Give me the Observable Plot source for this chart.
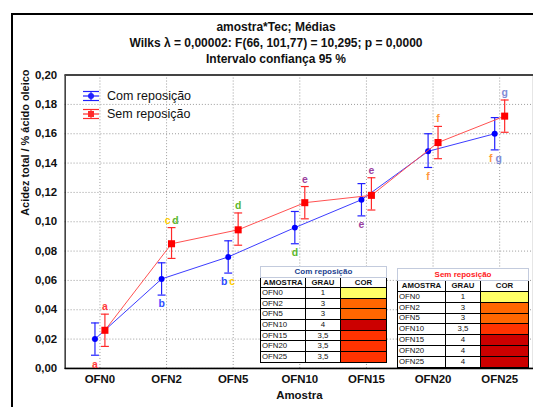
<!DOCTYPE html>
<html><head><meta charset="utf-8">
<script src="https://cdn.jsdelivr.net/npm/d3@7"></script>
<script src="https://cdn.jsdelivr.net/npm/@observablehq/plot@0.6"></script>
<style>
html,body{margin:0;padding:0;background:#fff;overflow:hidden;width:533px;height:407px;}
#wrap{position:relative;width:533px;height:407px;overflow:hidden;font-family:"Liberation Sans",Arial,sans-serif;color:#111;}
#frame{position:absolute;left:11px;top:13px;width:600px;height:500px;border:2px solid #000;}
#title{position:absolute;left:0;top:19px;width:552px;text-align:center;font-weight:bold;font-size:12px;line-height:16px;color:#111;}
#chart{position:absolute;left:0;top:0;}
#legend{position:absolute;left:82px;top:87px;font-size:12.5px;color:#111;}
#legend .li{display:flex;align-items:center;height:18px;}
#legend svg{margin-right:7px;}
.tbl{position:absolute;border-collapse:collapse;table-layout:fixed;background:#fff;font-family:"Liberation Sans",Arial,sans-serif;font-size:7.8px;color:#111;}
.tbl td{border:1.5px solid #000;padding:0 1px;line-height:8px;overflow:hidden;white-space:nowrap;}
.tbl td.c{text-align:center;}
.tbl tr.ttl td{border:1px solid #c3cbdd;font-weight:bold;font-size:8px;text-align:center;}
.tbl tr.hd td{font-weight:bold;text-align:center;}
</style></head>
<body>
<div id="wrap">
  <div id="frame"></div>
  <div id="title">amostra*Tec; Médias<br>Wilks λ = 0,00002: F(66, 101,77) = 10,295; p = 0,0000<br>Intervalo confiança 95 %</div>
  <div id="chart"></div>
  <div id="legend"></div>
</div>
<script>
// ---- data ----
const cats = ["OFN0","OFN2","OFN5","OFN10","OFN15","OFN20","OFN25"];
const seriesNames = ["Com reposição","Sem reposição"];
const comMean = [0.020, 0.061, 0.076, 0.096, 0.115, 0.148, 0.160];
const comLow  = [0.009, 0.050, 0.065, 0.085, 0.104, 0.137, 0.149];
const comHigh = [0.031, 0.072, 0.087, 0.107, 0.126, 0.160, 0.171];
const semMean = [0.026, 0.085, 0.0945, 0.113, 0.118, 0.154, 0.172];
const semLow  = [0.015, 0.075, 0.084, 0.102, 0.108, 0.143, 0.161];
const semHigh = [0.037, 0.096, 0.106, 0.124, 0.130, 0.165, 0.183];
const yTicks = [0, 0.02, 0.04, 0.06, 0.08, 0.10, 0.12, 0.14, 0.16, 0.18, 0.20];

// significance letters: sem -> above red bar, com -> below blue bar
const annCat  = ["OFN0","OFN0","OFN2","OFN2","OFN5","OFN5","OFN10","OFN10","OFN15","OFN15","OFN20","OFN20","OFN25","OFN25"];
const annSide = ["sem","com","sem","com","sem","com","sem","com","sem","com","sem","com","sem","com"];
const annText = ["a","a","cd","b","d","bc","e","d","e","e","f","f","g","fg"];
const letterColors = {a:"#ff3b3b", b:"#2d4cff", c:"#ffcc00", d:"#5cb82e", e:"#9a3fa0", f:"#ff9a3c", g:"#7f8cd6"};

// tables
const comGrau = ["1","3","3","4","3,5","3,5","3,5"];
const semGrau = ["1","3","3","3,5","4","4","4"];
const grauColor = {"1":"#ffff66","3":"#ff6600","3,5":"#ff3300","4":"#cc0000"};

// ---- styling ----
const blue = "#2020ff", red = "#ff2a2a";
const blueLine = "#3a3aff", redLine = "#ff5050";

const com = cats.map((c,i)=>({cat:c, m:comMean[i], lo:comLow[i], hi:comHigh[i]}));
const sem = cats.map((c,i)=>({cat:c, m:semMean[i], lo:semLow[i], hi:semHigh[i]}));

const cap = {draw(ctx){ ctx.moveTo(-4,0); ctx.lineTo(4,0); }};

const letterMarks = [];
annCat.forEach((c,i)=>{
  const side = annSide[i];
  const src = side === "sem" ? sem : com;
  const row = src[cats.indexOf(c)];
  const chars = annText[i].split("");
  const base = side === "sem" ? 5 : -5;
  chars.forEach((ch,j)=>{
    const off = base + (j - (chars.length-1)/2) * 8;
    letterMarks.push(Plot.text([row], {
      x:"cat", y: side === "sem" ? "hi" : "lo", text: () => ch,
      fill: letterColors[ch], fontSize: 10.5, fontWeight: "bold", dx: off,
      lineAnchor: side === "sem" ? "bottom" : "top", dy: side === "sem" ? -4 : 5
    }));
  });
});

const font = "Liberation Sans, Arial, sans-serif";
const chart = Plot.plot({
  width: 536, height: 407,
  marginTop: 75, marginBottom: 37, marginLeft: 65, marginRight: 0,
  style: {fontFamily: font, background: "transparent", color: "#111", overflow: "visible"},
  x: {type: "point", domain: cats, padding: 0.5, label: null},
  y: {domain: [0, 0.2], label: null},
  marks: [
    Plot.gridY(yTicks, {stroke: "#9a9a9a", strokeOpacity: 1, strokeDasharray: "1,2"}),
    Plot.gridX(cats, {stroke: "#9a9a9a", strokeOpacity: 1, strokeDasharray: "1,2"}),
    Plot.axisY(yTicks, {tickSize: 0, tickPadding: 8, fontSize: 11.5, fontWeight: "bold", label: null,
      tickFormat: d => d.toFixed(2).replace(".", ",")}),
    Plot.axisX(cats, {tickSize: 0, tickPadding: 6, fontSize: 11.5, fontWeight: "bold", label: null}),
    Plot.frame({stroke: "#000", strokeWidth: 1.2}),
    Plot.ruleY([0.2], {stroke: "#444", strokeWidth: 2}),
    Plot.ruleY([0], {stroke: "#000", strokeWidth: 1.5}),
    // blue series
    Plot.line(com, {x: "cat", y: "m", stroke: blueLine, strokeWidth: 1, dx: -5}),
    Plot.ruleX(com, {x: "cat", y1: "lo", y2: "hi", stroke: blue, strokeWidth: 1.2, dx: -5}),
    Plot.dot(com, {x: "cat", y: "lo", symbol: cap, stroke: blue, strokeWidth: 1.2, r: 4, dx: -5}),
    Plot.dot(com, {x: "cat", y: "hi", symbol: cap, stroke: blue, strokeWidth: 1.2, r: 4, dx: -5}),
    Plot.dot(com, {x: "cat", y: "m", fill: "#0000ff", r: 3, dx: -5}),
    // red series
    Plot.line(sem, {x: "cat", y: "m", stroke: redLine, strokeWidth: 1, dx: 5}),
    Plot.ruleX(sem, {x: "cat", y1: "lo", y2: "hi", stroke: red, strokeWidth: 1.2, dx: 5}),
    Plot.dot(sem, {x: "cat", y: "lo", symbol: cap, stroke: red, strokeWidth: 1.2, r: 4, dx: 5}),
    Plot.dot(sem, {x: "cat", y: "hi", symbol: cap, stroke: red, strokeWidth: 1.2, r: 4, dx: 5}),
    Plot.dot(sem, {x: "cat", y: "m", fill: "#ff0000", symbol: "square", r: 4, dx: 5}),
    ...letterMarks,
    Plot.text(["Acidez total / % ácido oleico"], {frameAnchor: "left", rotate: -90, dx: -40, dy: -6,
      fontWeight: "bold", fontSize: 11, fill: "#111"}),
    Plot.text(["Amostra"], {frameAnchor: "bottom", dy: 31, fontWeight: "bold", fontSize: 11.5, fill: "#111"})
  ]
});
document.getElementById("chart").appendChild(chart);

// legend
const leg = document.getElementById("legend");
[[seriesNames[0], blue, "circle"], [seriesNames[1], red, "square"]].forEach(([name, col, shape]) => {
  const marker = shape === "circle"
    ? `<circle cx="9" cy="7" r="3" fill="${col}"/>`
    : `<rect x="6" y="4" width="6" height="6" fill="${col}"/>`;
  leg.insertAdjacentHTML("beforeend",
    `<div class="li"><svg width="18" height="14">
      <line x1="1" x2="17" y1="2.5" y2="2.5" stroke="${col}" stroke-width="1.2"/>
      <line x1="1" x2="17" y1="7" y2="7" stroke="${col}" stroke-width="1.2"/>
      <line x1="1" x2="17" y1="11.5" y2="11.5" stroke="${col}" stroke-width="1.2"/>
      <line x1="9" x2="9" y1="2.5" y2="11.5" stroke="${col}" stroke-width="1.2"/>
      ${marker}</svg><span>${name}</span></div>`);
});

// tables
function makeTable(title, titleColor, grau, left, top, widths, titleH, headH, rowH) {
  const t = document.createElement("table");
  t.className = "tbl";
  t.style.left = left + "px"; t.style.top = top + "px";
  t.style.width = widths.reduce((a,b)=>a+b,0) + "px";
  let html = `<colgroup>${widths.map(w=>`<col style="width:${w}px">`).join("")}</colgroup>`;
  html += `<tr class="ttl" style="height:${titleH}px"><td colspan="3" style="color:${titleColor}">${title}</td></tr>`;
  html += `<tr class="hd" style="height:${headH}px"><td>AMOSTRA</td><td>GRAU</td><td>COR</td></tr>`;
  cats.forEach((c,i)=>{
    html += `<tr style="height:${rowH}px"><td>${c}</td><td class="c">${grau[i]}</td><td style="background:${grauColor[grau[i]]}"></td></tr>`;
  });
  t.innerHTML = html;
  document.getElementById("wrap").appendChild(t);
}
makeTable("Com reposição", "#23428f", comGrau, 260, 266, [45,35,46], 11, 10, 10.7);
makeTable("Sem reposição", "#ff1a1a", semGrau, 397, 268, [48,35,48], 12, 11, 10.8);
</script>
</body></html>
